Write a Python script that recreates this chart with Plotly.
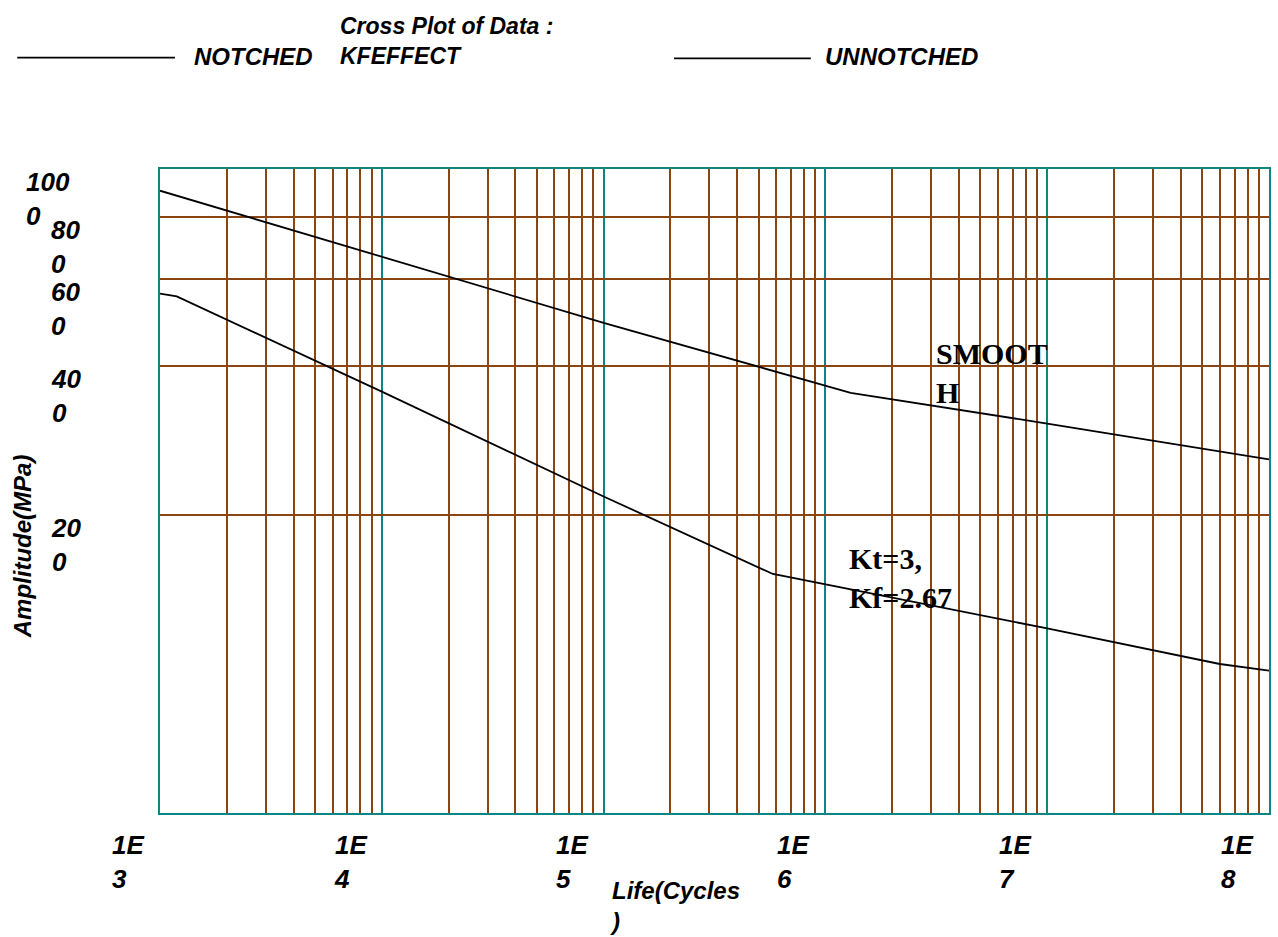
import math
import plotly.graph_objects as go

# Données (cycles, amplitude en MPa)
life_unnotched = [1e3, 1e4, 1e5, 1.3e6, 1e7, 1e8]
amp_unnotched = [904, 664, 489, 353, 306, 259]

life_notched = [1e3, 1.19e3, 1e4, 1e5, 5.8e5, 1e7, 6e7, 1e8]
amp_notched = [560, 553, 355, 218, 152, 118, 100, 97]

x_tick_vals = [1e3, 1e4, 1e5, 1e6, 1e7, 1e8]
x_tick_text = ["1E3", "1E4", "1E5", "1E6", "1E7", "1E8"]
y_tick_vals = [1000, 800, 600, 400, 200]
y_tick_text = ["1000", "800", "600", "400", "200"]
y_grid_vals = [200, 400, 600, 800]

TEAL = "#0E8483"
BROWN = "#8B4510"
SANS = "Liberation Sans, Arial, sans-serif"
SERIF = "Liberation Serif, Times New Roman, serif"

# zone de tracé en pixels
W, H = 1278, 937
L, R, T, B = 160, 1271, 169, 813


def px(x):
    return (x - L) / (R - L)


def py(y):
    return (B - y) / (B - T)


fig = go.Figure()

fig.add_trace(go.Scatter(x=life_unnotched, y=amp_unnotched, mode="lines",
                         name="UNNOTCHED", line=dict(color="black", width=1.8)))
fig.add_trace(go.Scatter(x=life_notched, y=amp_notched, mode="lines",
                         name="NOTCHED", line=dict(color="black", width=1.8)))

minor_x = [k * 10 ** n for n in range(3, 8) for k in range(2, 10)]

fig.update_xaxes(
    type="log", range=[3, 8],
    tickmode="array", tickvals=x_tick_vals, showticklabels=False, ticks="",
    showgrid=True, gridcolor=TEAL, gridwidth=1.8,
    minor=dict(tickmode="array", tickvals=minor_x, showgrid=True,
               gridcolor=BROWN, gridwidth=1.8, ticks=""),
    showline=True, mirror=True, linecolor=TEAL, linewidth=2.2,
    zeroline=False,
)
fig.update_yaxes(
    type="log", range=[math.log10(50), 3],
    tickmode="array", tickvals=y_grid_vals, showticklabels=False, ticks="",
    showgrid=True, gridcolor=BROWN, gridwidth=1.8,
    showline=True, mirror=True, linecolor=TEAL, linewidth=2.2,
    zeroline=False,
)

tick_font = dict(family=SANS, size=26, color="black", weight="bold", style="italic")
text_font = dict(family=SANS, size=24, color="black", weight="bold", style="italic")
note_font = dict(family=SERIF, size=30, color="black", weight="bold")

annotations = []

# étiquettes de l'axe X (coupées sur deux lignes comme l'original)
for v, t in zip(x_tick_vals, x_tick_text):
    annotations.append(dict(
        x=math.log10(v), y=0, xref="x", yref="paper", text=t[:2] + "<br>" + t[2:],
        xanchor="left", yanchor="top", align="left", xshift=-50, yshift=-15,
        showarrow=False, font=tick_font))

# étiquettes de l'axe Y
for v, t in zip(y_tick_vals, y_tick_text):
    annotations.append(dict(
        x=0, y=math.log10(v), xref="paper", yref="y", text=t[:-1] + "<br>" + t[-1],
        xanchor="left", yanchor="top", align="left",
        xshift=-(L - 24) if len(t) > 3 else -(L - 49), yshift=4,
        showarrow=False, font=tick_font))

# titre et titres des axes
annotations.append(dict(x=px(338), y=py(11), xref="paper", yref="paper",
                        text="Cross Plot of Data :<br>KFEFFECT", xanchor="left",
                        yanchor="top", align="left", showarrow=False,
                        font=dict(family=SANS, size=23, color="black",
                                  weight="bold", style="italic")))
annotations.append(dict(x=px(608), y=0, xref="paper", yref="paper",
                        text="Life(Cycles<br>)", xanchor="left", yanchor="top",
                        align="left", yshift=-62, showarrow=False, font=text_font))
annotations.append(dict(x=px(22), y=py(546), xref="paper", yref="paper",
                        text="Amplitude(MPa)", textangle=-90, xanchor="center",
                        yanchor="middle", showarrow=False, font=text_font))

# légende
annotations.append(dict(x=px(192), y=py(57), xref="paper", yref="paper",
                        text="NOTCHED", xanchor="left", yanchor="middle",
                        showarrow=False, font=text_font))
annotations.append(dict(x=px(824), y=py(57), xref="paper", yref="paper",
                        text="UNNOTCHED", xanchor="left", yanchor="middle",
                        showarrow=False, font=text_font))

# notes sur les courbes
annotations.append(dict(x=3 + (935 - L) / 222.1, y=3 - (373.5 - T) / 495.6,
                        xref="x", yref="y", text="SMOOT<br>H", align="left",
                        xanchor="left", yanchor="middle", showarrow=False,
                        font=note_font))
annotations.append(dict(x=3 + (848 - L) / 222.1, y=3 - (578.5 - T) / 495.6,
                        xref="x", yref="y", text="Kt=3,<br>Kf=2.67", align="left",
                        xanchor="left", yanchor="middle", showarrow=False,
                        font=note_font))

shapes = [
    dict(type="line", xref="paper", yref="paper", x0=px(17), x1=px(175),
         y0=py(57.7), y1=py(57.7), line=dict(color="black", width=1.8)),
    dict(type="line", xref="paper", yref="paper", x0=px(675), x1=px(812),
         y0=py(58.3), y1=py(58.3), line=dict(color="black", width=1.8)),
]

fig.update_layout(
    width=W, height=H,
    margin=dict(l=L, r=W - R, t=T, b=H - B),
    paper_bgcolor="white", plot_bgcolor="white",
    showlegend=False,
    annotations=annotations,
    shapes=shapes,
)

fig.write_html("out.html", config={"displayModeBar": False},
               post_script="document.body.style.margin='0';")
